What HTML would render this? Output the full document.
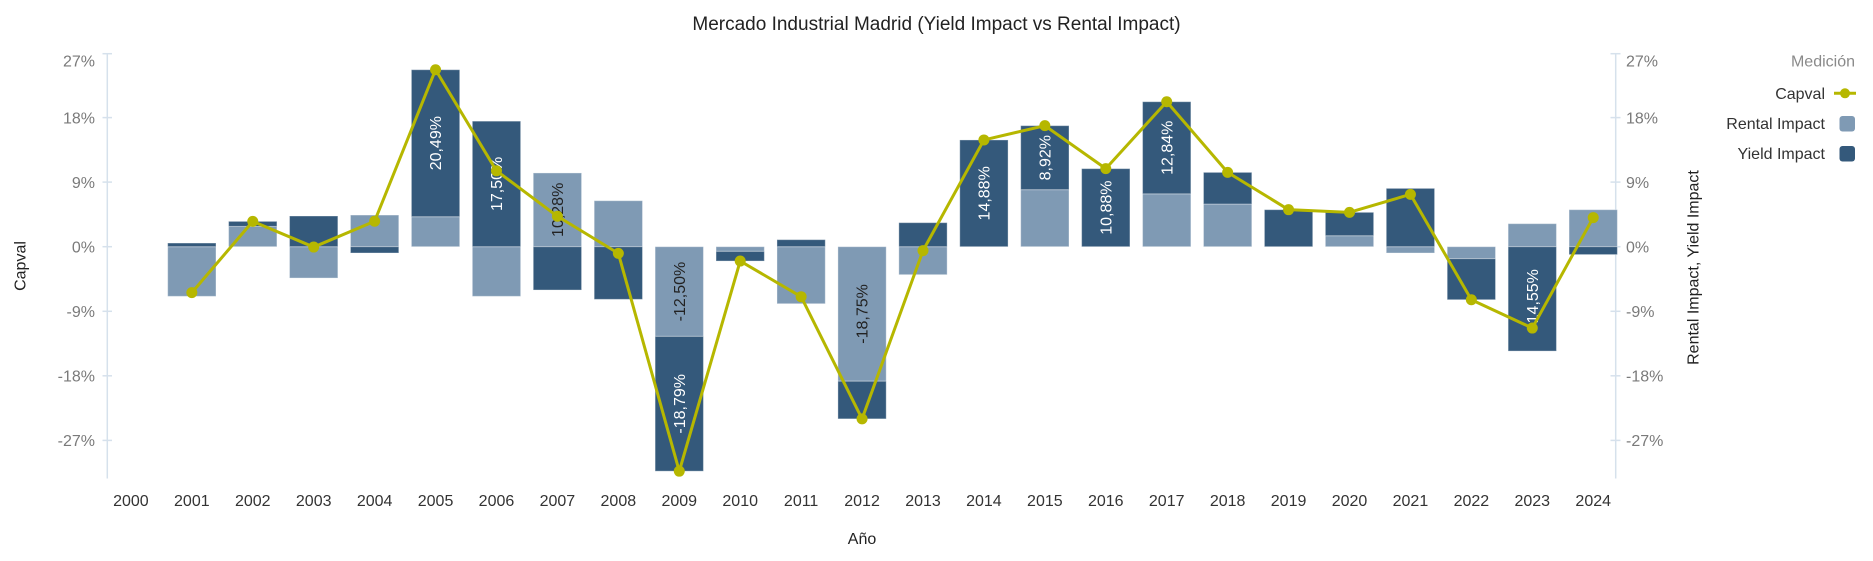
<!DOCTYPE html>
<html><head><meta charset="utf-8"><style>
html,body{margin:0;padding:0;background:#fff;}
svg{display:block;font-family:"Liberation Sans",Arial,sans-serif;}
</style></head><body>
<svg width="1873" height="561" viewBox="0 0 1873 561" xmlns="http://www.w3.org/2000/svg">
<rect width="1873" height="561" fill="#fff"/>
<text x="936.5" y="30" font-size="19" fill="#222" text-anchor="middle">Mercado Industrial Madrid (Yield Impact vs Rental Impact)</text>

<!-- axes -->
<g stroke="#d6e1ec" stroke-width="1.5">
<line x1="107.3" y1="53" x2="107.3" y2="478.5"/>
<line x1="1615.7" y1="53" x2="1615.7" y2="478.5"/>
<line x1="102.5" y1="53.7" x2="112" y2="53.7"/>
<line x1="102.5" y1="117.6" x2="112" y2="117.6"/>
<line x1="102.5" y1="182.1" x2="112" y2="182.1"/>
<line x1="102.5" y1="246.7" x2="112" y2="246.7"/>
<line x1="102.5" y1="311.3" x2="112" y2="311.3"/>
<line x1="102.5" y1="375.8" x2="112" y2="375.8"/>
<line x1="102.5" y1="440.4" x2="112" y2="440.4"/>
<line x1="1610.5" y1="53.7" x2="1620.5" y2="53.7"/>
<line x1="1610.5" y1="117.6" x2="1620.5" y2="117.6"/>
<line x1="1610.5" y1="182.1" x2="1620.5" y2="182.1"/>
<line x1="1610.5" y1="246.7" x2="1620.5" y2="246.7"/>
<line x1="1610.5" y1="311.3" x2="1620.5" y2="311.3"/>
<line x1="1610.5" y1="375.8" x2="1620.5" y2="375.8"/>
<line x1="1610.5" y1="440.4" x2="1620.5" y2="440.4"/>
</g>
<g font-size="16" fill="#7a7a7a" text-anchor="end">
<text x="95" y="66.5">27%</text>
<text x="95" y="123.3">18%</text>
<text x="95" y="187.8">9%</text>
<text x="95" y="252.4">0%</text>
<text x="95" y="317">-9%</text>
<text x="95" y="381.5">-18%</text>
<text x="95" y="446.1">-27%</text>
</g>
<g font-size="16" fill="#7a7a7a" text-anchor="start">
<text x="1626" y="66.5">27%</text>
<text x="1626" y="123.3">18%</text>
<text x="1626" y="187.8">9%</text>
<text x="1626" y="252.4">0%</text>
<text x="1626" y="317">-9%</text>
<text x="1626" y="381.5">-18%</text>
<text x="1626" y="446.1">-27%</text>
</g>
<g font-size="16" fill="#333" text-anchor="middle">
<text x="130.9" y="506">2000</text>
<text x="191.83" y="506">2001</text>
<text x="252.76" y="506">2002</text>
<text x="313.69" y="506">2003</text>
<text x="374.62" y="506">2004</text>
<text x="435.55" y="506">2005</text>
<text x="496.48" y="506">2006</text>
<text x="557.41" y="506">2007</text>
<text x="618.34" y="506">2008</text>
<text x="679.27" y="506">2009</text>
<text x="740.2" y="506">2010</text>
<text x="801.13" y="506">2011</text>
<text x="862.06" y="506">2012</text>
<text x="922.99" y="506">2013</text>
<text x="983.92" y="506">2014</text>
<text x="1044.85" y="506">2015</text>
<text x="1105.78" y="506">2016</text>
<text x="1166.71" y="506">2017</text>
<text x="1227.64" y="506">2018</text>
<text x="1288.57" y="506">2019</text>
<text x="1349.5" y="506">2020</text>
<text x="1410.43" y="506">2021</text>
<text x="1471.36" y="506">2022</text>
<text x="1532.29" y="506">2023</text>
<text x="1593.22" y="506">2024</text>
</g>
<text x="862" y="544" font-size="16" fill="#222" text-anchor="middle">Año</text>
<text transform="translate(20,266) rotate(-90)" font-size="16" fill="#222" text-anchor="middle" dy="0.35em">Capval</text>
<text transform="translate(1693,267.5) rotate(-90)" font-size="16" fill="#222" text-anchor="middle" dy="0.35em">Rental Impact, Yield Impact</text>

<!-- bars -->
<g stroke="#ffffff" stroke-opacity="0.35" stroke-width="1">
<g fill="#7f9ab4">
<rect x="167.68" y="246.7" width="48.3" height="49.64"/>
<rect x="228.61" y="226.4" width="48.3" height="20.3"/>
<rect x="289.54" y="246.7" width="48.3" height="31.35"/>
<rect x="350.47" y="215.06" width="48.3" height="31.64"/>
<rect x="411.4" y="216.71" width="48.3" height="29.99"/>
<rect x="472.33" y="246.7" width="48.3" height="49.64"/>
<rect x="533.26" y="172.95" width="48.3" height="73.75"/>
<rect x="594.19" y="200.71" width="48.3" height="45.99"/>
<rect x="655.12" y="246.7" width="48.3" height="89.68"/>
<rect x="716.05" y="246.7" width="48.3" height="4.66"/>
<rect x="776.98" y="246.7" width="48.3" height="57.03"/>
<rect x="837.91" y="246.7" width="48.3" height="134.51"/>
<rect x="898.84" y="246.7" width="48.3" height="27.98"/>
<rect x="1020.7" y="189.67" width="48.3" height="57.03"/>
<rect x="1142.56" y="193.83" width="48.3" height="52.87"/>
<rect x="1203.49" y="204.01" width="48.3" height="42.69"/>
<rect x="1325.35" y="235.72" width="48.3" height="10.98"/>
<rect x="1386.28" y="246.7" width="48.3" height="6.31"/>
<rect x="1447.21" y="246.7" width="48.3" height="11.98"/>
<rect x="1508.14" y="223.67" width="48.3" height="23.03"/>
<rect x="1569.07" y="209.68" width="48.3" height="37.02"/>
</g>
<g fill="#34597b">
<rect x="167.68" y="243.04" width="48.3" height="3.66"/>
<rect x="228.61" y="221.38" width="48.3" height="5.02"/>
<rect x="289.54" y="216.0" width="48.3" height="30.7"/>
<rect x="350.47" y="246.7" width="48.3" height="6.31"/>
<rect x="411.4" y="69.72" width="48.3" height="147.0"/>
<rect x="472.33" y="121.16" width="48.3" height="125.54"/>
<rect x="533.26" y="246.7" width="48.3" height="43.33"/>
<rect x="594.19" y="246.7" width="48.3" height="52.66"/>
<rect x="655.12" y="336.38" width="48.3" height="134.8"/>
<rect x="716.05" y="251.36" width="48.3" height="9.69"/>
<rect x="776.98" y="239.67" width="48.3" height="7.03"/>
<rect x="837.91" y="381.21" width="48.3" height="37.66"/>
<rect x="898.84" y="222.67" width="48.3" height="24.03"/>
<rect x="959.77" y="139.95" width="48.3" height="106.75"/>
<rect x="1020.7" y="125.67" width="48.3" height="64.0"/>
<rect x="1081.63" y="168.65" width="48.3" height="78.05"/>
<rect x="1142.56" y="101.71" width="48.3" height="92.12"/>
<rect x="1203.49" y="172.38" width="48.3" height="31.63"/>
<rect x="1264.42" y="209.68" width="48.3" height="37.02"/>
<rect x="1325.35" y="212.34" width="48.3" height="23.38"/>
<rect x="1386.28" y="188.38" width="48.3" height="58.32"/>
<rect x="1447.21" y="258.68" width="48.3" height="41.04"/>
<rect x="1508.14" y="246.7" width="48.3" height="104.38"/>
<rect x="1569.07" y="246.7" width="48.3" height="7.89"/>
</g>
</g>

<!-- bar labels -->
<g font-size="16" text-anchor="middle">
<text transform="translate(435.55,143.18) rotate(-90)" dy="0.35em" fill="#fff">20,49%</text>
<text transform="translate(496.48,183.93) rotate(-90)" dy="0.35em" fill="#fff">17,50%</text>
<text transform="translate(557.41,209.83) rotate(-90)" dy="0.35em" fill="#222">10,28%</text>
<text transform="translate(679.27,291.54) rotate(-90)" dy="0.35em" fill="#222">-12,50%</text>
<text transform="translate(679.27,403.78) rotate(-90)" dy="0.35em" fill="#fff">-18,79%</text>
<text transform="translate(862.06,313.96) rotate(-90)" dy="0.35em" fill="#222">-18,75%</text>
<text transform="translate(983.92,193.33) rotate(-90)" dy="0.35em" fill="#fff">14,88%</text>
<text transform="translate(1044.85,157.67) rotate(-90)" dy="0.35em" fill="#fff">8,92%</text>
<text transform="translate(1105.78,207.67) rotate(-90)" dy="0.35em" fill="#fff">10,88%</text>
<text transform="translate(1166.71,147.77) rotate(-90)" dy="0.35em" fill="#fff">12,84%</text>
<text transform="translate(1532.29,298.89) rotate(-90)" dy="0.35em" fill="#fff">-14,55%</text>
</g>

<!-- Capval line -->
<polyline fill="none" stroke="#b6b700" stroke-width="3" stroke-linejoin="round" points="191.83,292.61 252.76,221.38 313.69,247.06 374.62,221.23 435.55,69.72 496.48,170.8 557.41,216.28 618.34,253.37 679.27,471.18 740.2,261.05 801.13,296.7 862.06,418.88 922.99,250.65 983.92,139.95 1044.85,125.67 1105.78,168.65 1166.71,101.71 1227.64,172.38 1288.57,209.68 1349.5,212.34 1410.43,194.33 1471.36,299.72 1532.29,328.05 1593.22,217.57"/>
<g fill="#b6b700">
<circle cx="191.83" cy="292.61" r="5.5"/>
<circle cx="252.76" cy="221.38" r="5.5"/>
<circle cx="313.69" cy="247.06" r="5.5"/>
<circle cx="374.62" cy="221.23" r="5.5"/>
<circle cx="435.55" cy="69.72" r="5.5"/>
<circle cx="496.48" cy="170.8" r="5.5"/>
<circle cx="557.41" cy="216.28" r="5.5"/>
<circle cx="618.34" cy="253.37" r="5.5"/>
<circle cx="679.27" cy="471.18" r="5.5"/>
<circle cx="740.2" cy="261.05" r="5.5"/>
<circle cx="801.13" cy="296.7" r="5.5"/>
<circle cx="862.06" cy="418.88" r="5.5"/>
<circle cx="922.99" cy="250.65" r="5.5"/>
<circle cx="983.92" cy="139.95" r="5.5"/>
<circle cx="1044.85" cy="125.67" r="5.5"/>
<circle cx="1105.78" cy="168.65" r="5.5"/>
<circle cx="1166.71" cy="101.71" r="5.5"/>
<circle cx="1227.64" cy="172.38" r="5.5"/>
<circle cx="1288.57" cy="209.68" r="5.5"/>
<circle cx="1349.5" cy="212.34" r="5.5"/>
<circle cx="1410.43" cy="194.33" r="5.5"/>
<circle cx="1471.36" cy="299.72" r="5.5"/>
<circle cx="1532.29" cy="328.05" r="5.5"/>
<circle cx="1593.22" cy="217.57" r="5.5"/>
</g>

<!-- legend -->
<text x="1855" y="66.5" font-size="16" fill="#8a8a8a" text-anchor="end">Medición</text>
<g font-size="16" fill="#333" text-anchor="end">
<text x="1825" y="99">Capval</text>
<text x="1825" y="129">Rental Impact</text>
<text x="1825" y="159">Yield Impact</text>
</g>
<line x1="1834" y1="93.3" x2="1856" y2="93.3" stroke="#b6b700" stroke-width="3"/>
<circle cx="1845" cy="93.3" r="5" fill="#b6b700"/>
<rect x="1839.5" y="116" width="15.5" height="15.5" rx="3" fill="#7f9ab4"/>
<rect x="1839.5" y="146" width="15.5" height="15.5" rx="3" fill="#34597b"/>
</svg>
</body></html>
